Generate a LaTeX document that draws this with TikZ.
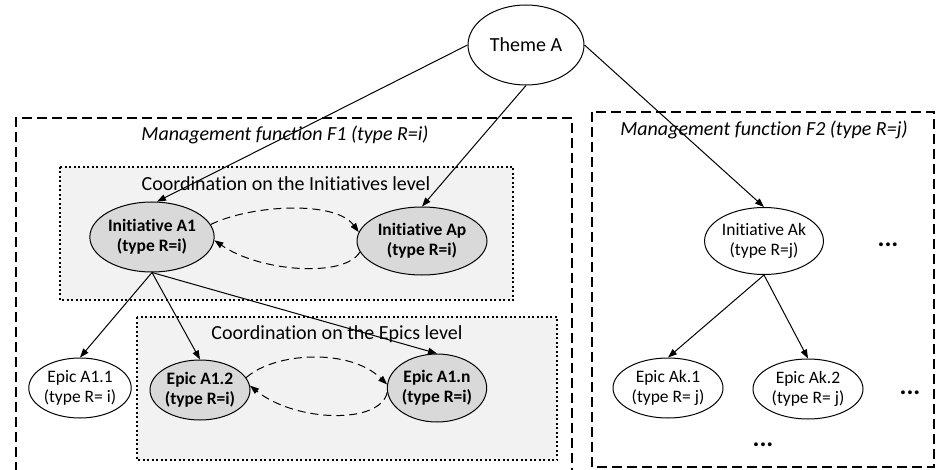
\documentclass[tikz,border=0pt]{standalone}
\usepackage{fontspec}
\setmainfont{Carlito}[Ligatures=NoCommon]
\usetikzlibrary{shapes.geometric,arrows.meta}
\definecolor{nodegray}{HTML}{D9D9D9}
\definecolor{panelgray}{HTML}{F2F2F2}
\tikzset{
  plainnode/.style={ellipse,draw,line width=1pt,fill=white,inner sep=0pt,align=center,
    font=\fontsize{17.5}{20}\selectfont},
  keynode/.style={plainnode,fill=nodegray,font=\fontsize{17.5}{20}\selectfont\bfseries},
  funcbox/.style={line width=1.1pt,dash pattern=on 10pt off 5pt},
  coordbox/.style={line width=1.1pt,dash pattern=on 2pt off 2.5pt,fill=panelgray},
  boxtitle/.style={font=\fontsize{20}{24}\selectfont\itshape},
  coordtitle/.style={font=\fontsize{20}{24}\selectfont},
  link/.style={line width=1pt,-{Triangle[length=9pt,width=6.5pt]}},
  peerlink/.style={link,dash pattern=on 8pt off 5pt},
  moredots/.style={font=\fontsize{26}{26}\selectfont\bfseries}
}
\begin{document}
\begin{tikzpicture}[x=1pt,y=-1pt]
\useasboundingbox (0,0) rectangle (936,470);

% management function frames
\draw[funcbox] (16,472) -- (16,118) -- (572,118) -- (572,472);
\draw[funcbox] (592,112) rectangle (934,467);
\node[boxtitle] (f1title) at (285,135) {Management function F1 (type R=i)};
\node[boxtitle] (f2title) at (764,130) {Management function F2 (type R=j)};

% coordination panels
\draw[coordbox] (60,167) rectangle (513,300);
\node[coordtitle] (initlevel) at (286,184) {Coordination on the Initiatives level};
\draw[coordbox] (137,317) rectangle (557,460);
\node[coordtitle] (epiclevel) at (337,334) {Coordination on the Epics level};

% nodes
\node[plainnode,minimum width=116pt,minimum height=80pt,font=\fontsize{20}{24}\selectfont] (theme) at (526,45) {Theme A};
\node[keynode,minimum width=115pt,minimum height=70pt] (a1) at (152,237) {Initiative A1\\(type R=i)};
\node[keynode,minimum width=130pt,minimum height=68pt] (ap) at (422,241) {Initiative Ap\\(type R=i)};
\node[plainnode,minimum width=118pt,minimum height=67pt] (ak) at (764,241) {Initiative Ak\\(type R=j)};
\node[plainnode,minimum width=100pt,minimum height=60pt] (e11) at (80,388) {Epic A1.1\\(type R= i)};
\node[keynode,minimum width=100pt,minimum height=60pt] (e12) at (200,390) {Epic A1.2\\(type R=i)};
\node[keynode,minimum width=92pt,minimum height=68pt] (e1n) at (437,388) {Epic A1.n\\(type R=i)};
\node[plainnode,minimum width=110pt,minimum height=60pt] (ek1) at (668,388) {Epic Ak.1\\(type R= j)};
\node[plainnode,minimum width=110pt,minimum height=60pt] (ek2) at (808,389) {Epic Ak.2\\(type R= j)};

\node[moredots] (dots1) at (888,245) {...};
\node[moredots] (dots2) at (910,393) {...};
\node[moredots] (dots3) at (763,445) {...};

% hierarchy links
\draw[link] (theme.180) -- (a1.82);
\draw[link] (theme.270) -- (ap.north);
\draw[link] (theme.0) -- (ak.north);
\draw[link] (a1.south) -- (e11.north);
\draw[link] (a1.south) -- (e12.north);
\draw[link] (a1.south) -- (e1n.north);
\draw[link] (ak.south) -- (ek1.north);
\draw[link] (ak.south) -- (ek2.north);

% peer coordination links
\draw[peerlink] (a1.12) .. controls (250,205) and (335,200) .. (ap.172);
\draw[peerlink] (ap.190) .. controls (345,278) and (260,272) .. (a1.-3);
\draw[peerlink] (e12.15) .. controls (275,352) and (350,348) .. (e1n.176);
\draw[peerlink] (e1n.185) .. controls (380,425) and (295,422) .. (e12.5);
\end{tikzpicture}
\end{document}
